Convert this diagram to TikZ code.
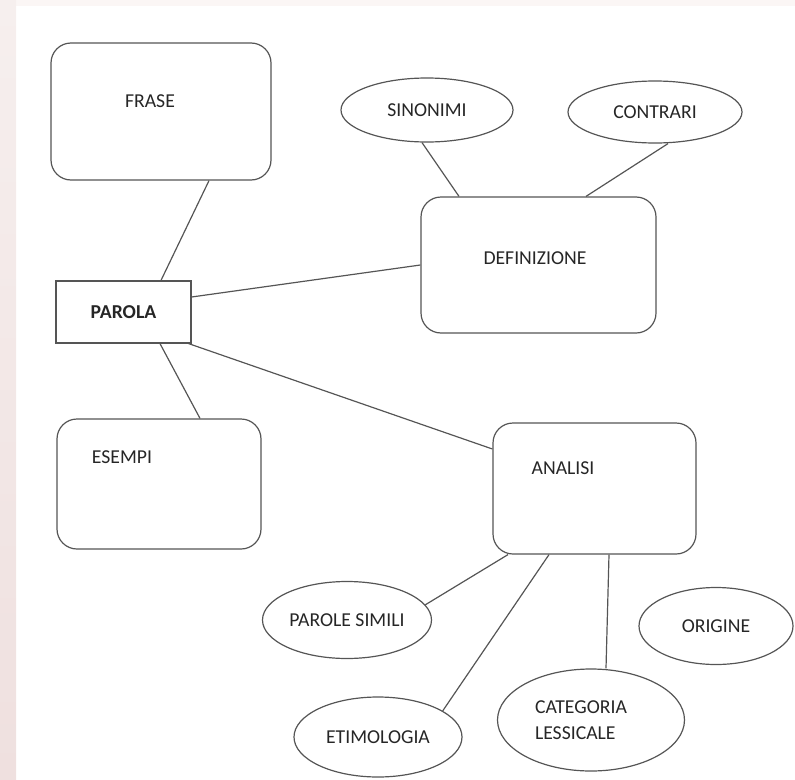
\documentclass[tikz,border=0pt]{standalone}
\usepackage{fontspec}
\setmainfont{Carlito}
\usetikzlibrary{shapes.geometric}
\definecolor{pinkbg}{RGB}{239,224,223}
\definecolor{pinklight}{RGB}{246,239,238}
\definecolor{pinktop}{RGB}{251,246,245}
\definecolor{linegray}{RGB}{85,85,85}
\begin{document}
\begin{tikzpicture}[x=1pt,y=-1pt,
  every node/.style={font=\fontsize{19.7}{26}\selectfont, text=black!85},
  roundbox/.style={draw=linegray, line width=1.2pt, rounded corners=20pt, inner sep=0pt},
  wordbox/.style={draw=linegray, line width=1.2pt, inner sep=0pt},
  oval/.style={draw=linegray, ellipse, line width=1.2pt, inner sep=0pt},
  link/.style={draw=linegray, line width=1.2pt}]
%%Background
\useasboundingbox (0,0) rectangle (795,779);
\fill[pinktop] (0,0) rectangle (795,6);
\shade[top color=pinklight, bottom color=pinkbg] (0,0) rectangle (16,779);

%%Boxes
\node[roundbox, minimum width=220pt, minimum height=137pt] (frase) at (161,111.5) {};
\node (frasetxt) at (150,101) {FRASE};
\node[wordbox, minimum width=135pt, minimum height=62pt] (parola) at (123.5,312) {\textbf{PAROLA}};
\node[roundbox, minimum width=235pt, minimum height=136pt] (definizione) at (538.5,265) {};
\node (definiziionetxt) at (535,258) {DEFINIZIONE};
\node[roundbox, minimum width=204pt, minimum height=130pt] (esempi) at (159,484) {};
\node (esempitxt) at (122,457) {ESEMPI};
\node[roundbox, minimum width=203pt, minimum height=131pt] (analisi) at (594.5,488.5) {};
\node (analisitxt) at (563,468) {ANALISI};

%%Ovals
\node[oval, minimum width=172pt, minimum height=64pt] (sinonimi) at (427,110) {SINONIMI};
\node[oval, minimum width=174pt, minimum height=62pt] (contrari) at (655,112) {CONTRARI};
\node[oval, minimum width=169pt, minimum height=77pt] (simili) at (347,620) {PAROLE SIMILI};
\node[oval, minimum width=168pt, minimum height=80pt] (etimologia) at (378,737) {ETIMOLOGIA};
\node[oval, minimum width=187pt, minimum height=102pt, text width=112pt, align=left] (categoria) at (591,720) {CATEGORIA\\LESSICALE};
\node[oval, minimum width=154pt, minimum height=77pt] (origine) at (716,626) {ORIGINE};

%%Links
\draw[link] ([xshift=48pt]frase.south) -- ([xshift=37.5pt]parola.north);
\draw[link] ([yshift=15pt]parola.east) -- (definizione.west);
\draw[link] ([xshift=-5pt]sinonimi.south) -- ([xshift=-79.5pt]definizione.north);
\draw[link] ([xshift=13pt]contrari.south) -- ([xshift=47.5pt]definizione.north);
\draw[link] ([xshift=36.5pt]parola.south) -- ([xshift=41pt]esempi.north);
\draw[link] ([xshift=-3pt]parola.south east) -- ([yshift=39.5pt]analisi.west);
\draw[link] ([xshift=-86.5pt]analisi.south) -- (simili.11);
\draw[link] ([xshift=-45.5pt]analisi.south) -- (etimologia.22);
\draw[link] ([xshift=14.5pt]analisi.south) -- ([xshift=15pt]categoria.north);
\end{tikzpicture}
\end{document}
